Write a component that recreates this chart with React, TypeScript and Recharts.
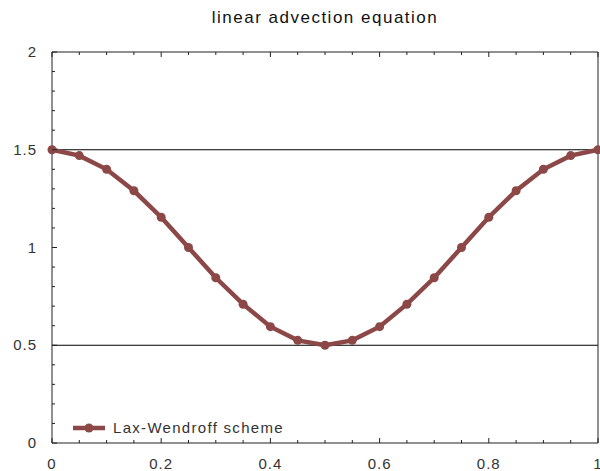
import React from "react"
import {
  LineChart,
  Line,
  XAxis,
  YAxis,
  ReferenceLine,
} from "recharts"

const xs = [0, 0.05, 0.1, 0.15, 0.2, 0.25, 0.3, 0.35, 0.4, 0.45, 0.5, 0.55, 0.6, 0.65, 0.7, 0.75, 0.8, 0.85, 0.9, 0.95, 1]
const laxWendroff = [1.5, 1.47, 1.4, 1.29, 1.155, 1.0, 0.845, 0.71, 0.595, 0.525, 0.5, 0.525, 0.595, 0.71, 0.845, 1.0, 1.155, 1.29, 1.4, 1.47, 1.5]
const xTicks = [0, 0.05, 0.1, 0.15, 0.2, 0.25, 0.3, 0.35, 0.4, 0.45, 0.5, 0.55, 0.6, 0.65, 0.7, 0.75, 0.8, 0.85, 0.9, 0.95, 1]
const xMajor = ["0", "0.2", "0.4", "0.6", "0.8", "1"]
const yTicks = [0, 0.1, 0.2, 0.3, 0.4, 0.5, 0.6, 0.7, 0.8, 0.9, 1, 1.1, 1.2, 1.3, 1.4, 1.5, 1.6, 1.7, 1.8, 1.9, 2]
const yMajor = ["0", "0.5", "1", "1.5", "2"]

const data = xs.map((x, i) => ({ x, u: laxWendroff[i] }))

const FONT = "'Liberation Sans', Arial, sans-serif"
const LINE = "#8c4747"
const AXIS = "#222"

const fmt = (v: number) => String(Math.round(v * 100) / 100)

function BottomTick({ x, y, payload }: any) {
  const label = fmt(payload.value)
  const major = xMajor.includes(label)
  return (
    <g>
      <line x1={x} x2={x} y1={y} y2={y - (major ? 5 : 3)} stroke={AXIS} />
      {major && (
        <text
          x={x}
          y={y + 26}
          textAnchor="middle"
          fontSize={15}
          letterSpacing={1}
          fill="#333"
          fontFamily={FONT}
        >
          {label}
        </text>
      )}
    </g>
  )
}

function TopTick({ x, y, payload }: any) {
  const major = xMajor.includes(fmt(payload.value))
  return <line x1={x} x2={x} y1={y} y2={y + (major ? 5 : 3)} stroke={AXIS} />
}

function LeftTick({ x, y, payload }: any) {
  const label = fmt(payload.value)
  const major = yMajor.includes(label)
  return (
    <g>
      <line x1={x} x2={x + (major ? 5 : 3)} y1={y} y2={y} stroke={AXIS} />
      {major && (
        <text
          x={x - 15}
          y={y + 5}
          textAnchor="end"
          fontSize={15}
          letterSpacing={1}
          fill="#333"
          fontFamily={FONT}
        >
          {label}
        </text>
      )}
    </g>
  )
}

function RightTick({ x, y, payload }: any) {
  const major = yMajor.includes(fmt(payload.value))
  return <line x1={x} x2={x - (major ? 5 : 3)} y1={y} y2={y} stroke={AXIS} />
}

function LegendBox() {
  return (
    <svg width={240} height={20} style={{ position: "absolute", left: 73, top: 418 }}>
      <line x1={0} x2={32} y1={10} y2={10} stroke={LINE} strokeWidth={4.5} />
      <circle cx={16} cy={10} r={4.5} fill={LINE} />
      <text x={40} y={15} fontSize={15} letterSpacing={1.3} fill="#333" fontFamily={FONT}>
        Lax-Wendroff scheme
      </text>
    </svg>
  )
}

export default function App() {
  return (
    <div style={{ position: "relative", width: 600, height: 471, background: "#fff" }}>
      <style>{"body{margin:0}"}</style>
      <div
        style={{
          position: "absolute",
          left: 52,
          width: 546,
          top: 8,
          textAlign: "center",
          fontFamily: FONT,
          fontSize: 17,
          letterSpacing: 1.5,
          color: "#111",
        }}
      >
        linear advection equation
      </div>
      <LineChart width={600} height={471} data={data} margin={{ top: 51, right: 1, bottom: 0, left: 0 }}>
        <XAxis
          dataKey="x"
          type="number"
          domain={[0, 1]}
          ticks={xTicks}
          interval={0}
          height={28}
          tickSize={0}
          tickMargin={0}
          tickLine={false}
          axisLine={{ stroke: AXIS }}
          tick={<BottomTick />}
        />
        <XAxis
          xAxisId="top"
          orientation="top"
          dataKey="x"
          type="number"
          domain={[0, 1]}
          ticks={xTicks}
          interval={0}
          height={1}
          tickSize={0}
          tickMargin={0}
          tickLine={false}
          axisLine={{ stroke: AXIS }}
          tick={<TopTick />}
        />
        <YAxis
          type="number"
          domain={[0, 2]}
          ticks={yTicks}
          interval={0}
          width={52}
          tickSize={0}
          tickMargin={0}
          tickLine={false}
          axisLine={{ stroke: AXIS }}
          tick={<LeftTick />}
        />
        <YAxis
          yAxisId="right"
          orientation="right"
          type="number"
          domain={[0, 2]}
          ticks={yTicks}
          interval={0}
          width={1}
          tickSize={0}
          tickMargin={0}
          tickLine={false}
          axisLine={{ stroke: AXIS }}
          tick={<RightTick />}
        />
        <ReferenceLine y={1.5} stroke="#000" strokeWidth={1} />
        <ReferenceLine y={0.5} stroke="#000" strokeWidth={1} />
        <Line
          dataKey="u"
          stroke={LINE}
          strokeWidth={4.5}
          dot={{ r: 4.5, fill: LINE, stroke: "none" }}
          isAnimationActive={false}
        />
      </LineChart>
      <LegendBox />
    </div>
  )
}
